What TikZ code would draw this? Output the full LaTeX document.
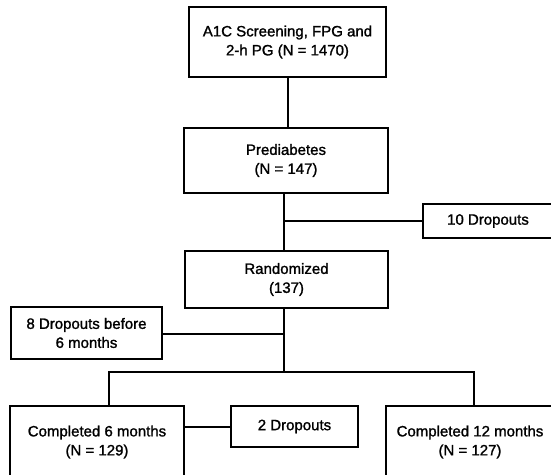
\documentclass[tikz,border=0pt]{standalone}
\usepackage{fontspec}
\setmainfont{Liberation Sans}[RawFeature={embolden=1.4}]
\begin{document}
\begin{tikzpicture}[x=1pt,y=-1pt,line width=2pt,
  every node/.style={draw,align=center,inner sep=0pt,font=\fontsize{15}{19}\selectfont}]
\useasboundingbox (0,0) rectangle (551,474);

\node[minimum width=197,minimum height=70] (screen) at (287.5,42)  {A1C Screening, FPG and\\2-h PG (N = 1470)};
\node[minimum width=204,minimum height=65] (prediab) at (286,160.5) {Prediabetes\\(N = 147)};
\node[minimum width=130,minimum height=34] (drop10) at (488,221)   {10 Dropouts};
\node[minimum width=203,minimum height=57] (random) at (286.5,279.5) {Randomized\\(137)};
\node[minimum width=151,minimum height=52] (drop8)  at (86.5,333)  {8 Dropouts before\\6 months};
\node[minimum width=174,minimum height=72] (comp6)  at (97,442)    {Completed 6 months\\(N = 129)};
\node[minimum width=127,minimum height=41] (drop2)  at (294.5,426.5) {2 Dropouts};
\node[minimum width=168,minimum height=72] (comp12) at (470,442)   {Completed 12 months\\(N = 127)};

\coordinate (j10)   at (284,221);
\coordinate (j8)    at (284,334);
\coordinate (split) at (284,372);
\coordinate (l6)    at (109,372);
\coordinate (l12)   at (474,372);

\draw (screen.south) -- (screen.south |- prediab.north);
\draw (prediab.south -| j10) -- (random.north -| j10);
\draw (j10) -- (j10 -| drop10.west);
\draw (random.south -| j8) -- (split);
\draw (j8) -- (j8 -| drop8.east);
\draw (l6 |- comp6.north) -- (l6) -- (l12) -- (l12 |- comp12.north);
\draw (drop2.west -| comp6.east) -- (drop2.west);
\end{tikzpicture}
\end{document}
